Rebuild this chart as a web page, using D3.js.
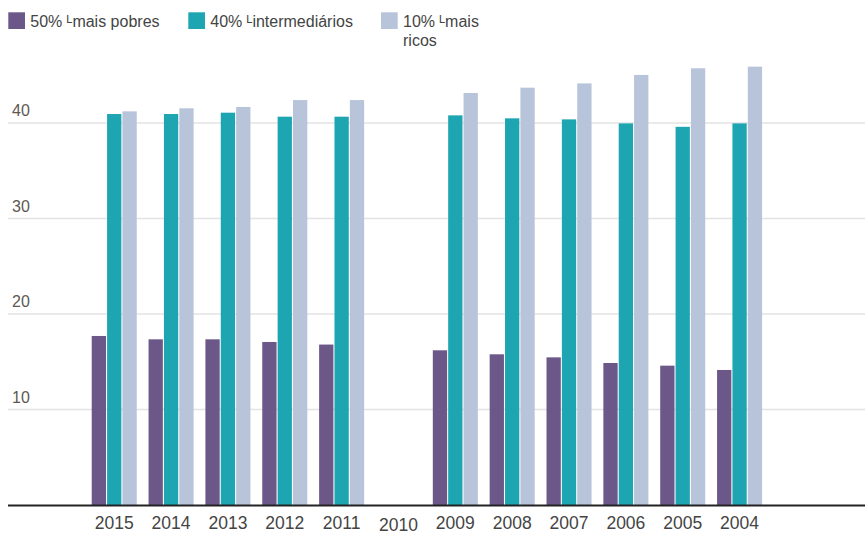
<!DOCTYPE html>
<html><head><meta charset="utf-8">
<script src="https://cdn.jsdelivr.net/npm/d3@7"></script>
<style>body{margin:0;background:#fff;}svg{display:block;font-family:"Liberation Sans",Arial,sans-serif;}</style>
</head><body><svg id="c" width="865" height="533"></svg>
<script>
const years = ["2015","2014","2013","2012","2011","2010","2009","2008","2007","2006","2005","2004"];
const seriesNames = ["50% ᴸmais pobres","40% ᴸintermediários","10% ᴸmais ricos"];
const colors = ["#6c5888","#1ea5b2","#b8c4da"];
const pobres = [17.7,17.35,17.35,17.07,16.8,null,16.2,15.78,15.46,14.87,14.59,14.14];
const intermediarios = [40.94,40.94,41.08,40.66,40.66,null,40.8,40.49,40.38,39.96,39.6,39.96];
const ricos = [41.22,41.54,41.68,42.4,42.4,null,43.14,43.7,44.15,45.03,45.73,45.9];
const yTicks = [10,20,30,40];

const svg = d3.select("#c");
const seriesVals = [pobres, intermediarios, ricos];

const x = d3.scaleBand().domain(years).range([85.8, 768]).paddingInner(0.208).paddingOuter(0.104);
const xs = d3.scaleBand().domain([0,1,2]).range([0, x.bandwidth()]).paddingInner(0.07);
const y = d3.scaleLinear().domain([0,40]).range([505,123]);

svg.append("g").selectAll("line").data(yTicks).join("line")
  .attr("x1",8).attr("x2",865).attr("y1",d=>y(d)).attr("y2",d=>y(d))
  .attr("stroke","#e3e3e3").attr("stroke-width",1.5);
svg.append("g").selectAll("text").data(yTicks).join("text")
  .attr("x",12).attr("y",d=>y(d)-7).text(d=>d)
  .attr("font-size",16).attr("fill","#5e5852");

const g = svg.append("g");
seriesVals.forEach((vals,si)=>{
  g.append("g").selectAll("rect").data(years.map((yr,i)=>({yr,v:vals[i]})).filter(d=>d.v!=null))
   .join("rect")
   .attr("x",d=>x(d.yr)+xs(si)).attr("width",xs.bandwidth())
   .attr("y",d=>y(d.v)).attr("height",d=>y(0)-y(d.v))
   .attr("fill",colors[si]);
});

svg.append("line").attr("x1",8).attr("x2",865).attr("y1",y(0)+0.5).attr("y2",y(0)+0.5)
  .attr("stroke","#222").attr("stroke-width",2);

const xAxis = d3.axisBottom(x).tickSize(0).tickPadding(0);
const ax = svg.append("g").attr("transform",`translate(0,${y(0)})`).call(xAxis);
ax.select(".domain").remove();
ax.selectAll("text").attr("font-size",17.5).attr("fill","#444").attr("font-family","Liberation Sans, Arial, sans-serif")
  .attr("dy",null).attr("y",d=> d==="2010" ? 25.5 : 24);

const legX = [8.3, 188.3, 381];
const leg = svg.append("g");
seriesNames.forEach((name,i)=>{
  leg.append("rect").attr("x",legX[i]).attr("y",12.3).attr("width",16.7).attr("height",16.7).attr("fill",colors[i]);
  const t = leg.append("text").attr("x",legX[i]+22).attr("y",27).attr("font-size",16).attr("fill","#444");
  if(i===2){
    t.append("tspan").text("10% ᴸmais");
    t.append("tspan").attr("x",legX[i]+22).attr("dy",18.5).text("ricos");
  } else t.text(name);
});
</script></body></html>
